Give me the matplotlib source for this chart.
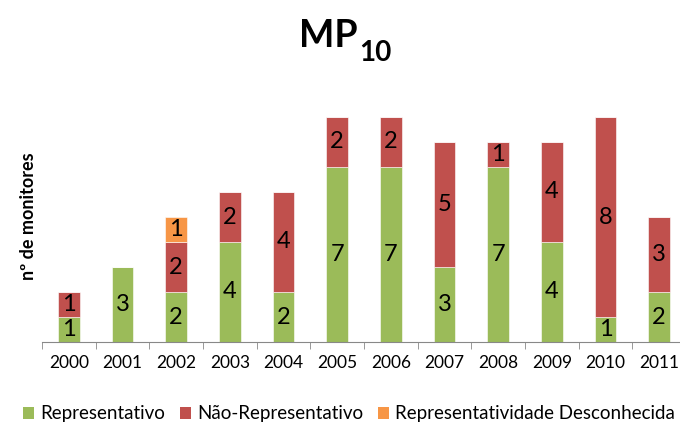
import numpy as np
import matplotlib.pyplot as plt
from matplotlib.patches import Patch

plt.rcParams['font.family'] = ['Lato', 'DejaVu Sans']

# data
years = ['2000', '2001', '2002', '2003', '2004', '2005',
         '2006', '2007', '2008', '2009', '2010', '2011']
representativo = [1, 3, 2, 4, 2, 7, 7, 3, 7, 4, 1, 2]
nao_representativo = [1, 0, 2, 2, 4, 2, 2, 5, 1, 4, 8, 3]
desconhecida = [0, 0, 1, 0, 0, 0, 0, 0, 0, 0, 0, 0]

series_names = ['Representativo', 'Não-Representativo',
                'Representatividade Desconhecida']
colors = ['#9BBB59', '#C0504D', '#F79646']

W, H = 680, 424
fig = plt.figure(figsize=(W / 100, H / 100), dpi=100)
# axes runs a little past the right edge, as in the original
ax = fig.add_axes([42 / W, 1 - 342 / H, 644 / W, 225 / H])

x = np.arange(len(years))
bottom = np.zeros(len(years))
for vals, col in zip([representativo, nao_representativo, desconhecida], colors):
    vals = np.array(vals, dtype=float)
    bars = ax.bar(x, vals, 0.4, bottom=bottom, color=col,
                  edgecolor='white', linewidth=0.4)
    for b, v in zip(bars, vals):
        if v > 0:
            ax.text(b.get_x() + b.get_width() / 2, b.get_y() + v / 2,
                    f'{int(v)}', ha='center', va='center',
                    fontsize=17, color='black')
    bottom += vals

ax.set_xlim(-0.5, len(years) - 0.5)
ax.set_ylim(0, 9)
ax.set_yticks([])
for s in ['top', 'right', 'left']:
    ax.spines[s].set_visible(False)
ax.spines['bottom'].set_color('#888888')
ax.set_xticks(x)
ax.set_xticklabels(years, fontsize=12.5)
ax.tick_params(axis='x', which='major', length=0, pad=9)
ax.set_xticks(np.arange(-0.5, len(years)), minor=True)
ax.tick_params(axis='x', which='minor', length=5, color='#888888')

# title MP10 with a big subscript
t = fig.text(299 / W, 1 - 47 / H, 'MP', ha='left', va='baseline',
             fontsize=27, fontweight='bold')
ax.annotate('10', xy=(1, 0), xycoords=t, xytext=(2, -8),
            textcoords='offset pixels', ha='left', va='baseline',
            fontsize=20, fontweight='bold')

fig.text(29 / W, 1 - 216 / H, 'nº de monitores', rotation=90,
         ha='center', va='center', fontsize=13, fontweight='bold')

handles = [Patch(facecolor=c, edgecolor='none') for c in colors]
fig.legend(handles, series_names, loc='center', bbox_to_anchor=(349 / W, 1 - 414 / H),
           ncol=3, frameon=False, fontsize=13.5, handlelength=0.6, handleheight=0.6,
           handletextpad=0.3, columnspacing=0.8)

fig.savefig('out.png', dpi=100)
